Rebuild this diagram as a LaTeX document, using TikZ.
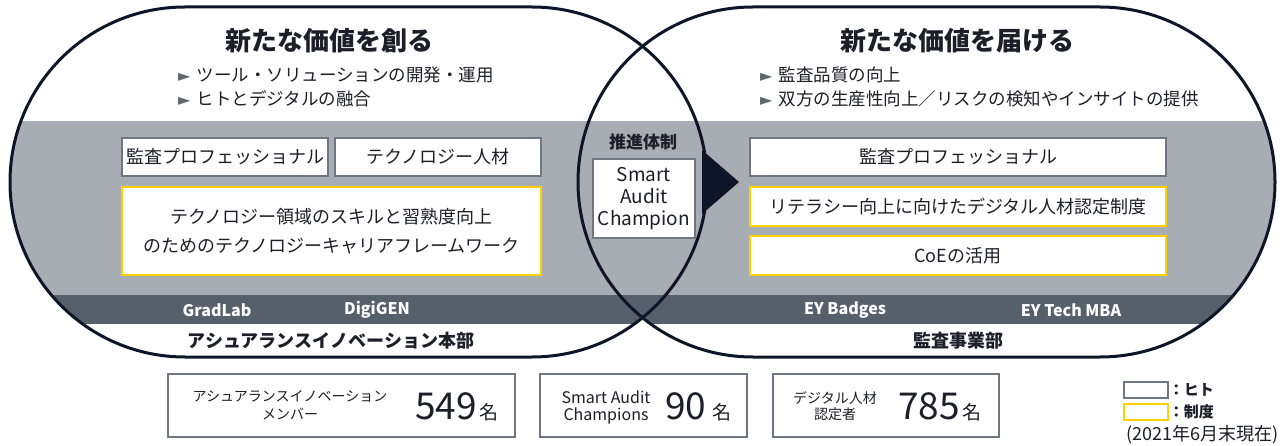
\documentclass[tikz,border=0pt]{standalone}
\usepackage{fontspec}
\setmainfont{Noto Sans CJK JP}
\newfontfamily\dejavu{DejaVu Sans}
\definecolor{outl}{HTML}{0C1628}
\definecolor{bandl}{HTML}{A7ADB3}
\definecolor{bandd}{HTML}{56606B}
\definecolor{boxg}{HTML}{6E7782}
\definecolor{eyy}{HTML}{FFD100}
\definecolor{txt}{HTML}{1E1E28}
\definecolor{bul}{HTML}{5E6670}
\newcommand\fsz[2]{\fontsize{#1}{#2}\selectfont}
\newcommand\stadium[1]{(#1-173.5,7) -- (#1+173.5,7) arc[start angle=-90,end angle=90,radius=175] -- (#1-173.5,357) arc[start angle=90,end angle=270,radius=175] -- cycle}
\newcommand\bul{{\dejavu\color{bul}\fsz{16}{16}►}\hspace{6pt}}
\tikzset{
  every node/.style={text=txt, inner sep=0pt},
  hitobox/.style={draw=boxg, fill=white, line width=1.5pt},
  seidobox/.style={draw=eyy, fill=white, line width=2pt},
  cntbox/.style={draw=boxg, fill=white, line width=1.2pt},
  bullettxt/.style={anchor=west, font=\fsz{17.5}{17.5}},
  boxtxt/.style={font=\fsz{18}{29}, align=center},
  bandtxt/.style={font=\bfseries\fsz{16}{16}, text=white},
  deptxt/.style={font=\bfseries\fsz{18}{18}},
  titletxt/.style={font=\bfseries\fsz{26}{26}},
  bignum/.style={anchor=base west, font=\fsz{37}{37}},
  meitxt/.style={anchor=base west, font=\fsz{19}{19}},
}
\begin{document}
\begin{tikzpicture}[x=1pt,y=-1pt]
\useasboundingbox (0,0) rectangle (1282,446);
\fill[white] (0,0) rectangle (1282,446);
% bands clipped to each shape
\begin{scope}
\clip \stadium{358.5};
\fill[bandl] (0,121) rectangle (1282,295);
\fill[bandd] (0,295) rectangle (1282,324);
\end{scope}
\begin{scope}
\clip \stadium{926.5};
\fill[bandl] (0,121) rectangle (1282,295);
\fill[bandd] (0,295) rectangle (1282,324);
\end{scope}
% arrow triangle
\fill[outl] (702,150) -- (739,182) -- (702,214) -- cycle;
% outlines
\draw[outl, line width=3pt] \stadium{358.5};
\draw[outl, line width=3pt] \stadium{926.5};
% titles
\node[titletxt] (t1) at (329,41) {新たな価値を創る};
\node[titletxt] (t2) at (957,41) {新たな価値を届ける};
\node[bullettxt] (b1) at (178,75) {\bul ツール・ソリューションの開発・運用};
\node[bullettxt] (b2) at (178,99) {\bul ヒトとデジタルの融合};
\node[bullettxt] (b3) at (760,75) {\bul 監査品質の向上};
\node[bullettxt] (b4) at (760,99) {\bul 双方の生産性向上／リスクの検知やインサイトの提供};
% left boxes
\node[hitobox, minimum width=206pt, minimum height=38pt, boxtxt] (l1) at (225,157) {監査プロフェッショナル};
\node[hitobox, minimum width=206pt, minimum height=38pt, boxtxt] (l2) at (438,157) {テクノロジー人材};
\node[seidobox, minimum width=419pt, minimum height=88pt, boxtxt] (l3) at (331.5,231) {テクノロジー領域のスキルと習熟度向上\\のためのテクノロジーキャリアフレームワーク};
% center
\node[font=\bfseries\fsz{17}{17}] (sk) at (643,142) {推進体制};
\node[hitobox, minimum width=102pt, minimum height=79pt, align=center, font=\fsz{19}{22}] (sac) at (644,198.5) {Smart\\Audit\\Champion};
% right boxes
\node[hitobox, minimum width=416pt, minimum height=38pt, boxtxt] (r1) at (958,157) {監査プロフェッショナル};
\node[seidobox, minimum width=416pt, minimum height=39pt, boxtxt] (r2) at (958,206.5) {リテラシー向上に向けたデジタル人材認定制度};
\node[seidobox, minimum width=416pt, minimum height=39pt, boxtxt] (r3) at (958,255.5) {CoEの活用};
% band labels
\node[bandtxt] (g1) at (217,310) {GradLab};
\node[bandtxt] (g2) at (377,310) {DigiGEN};
\node[bandtxt] (g3) at (845,310) {EY Badges};
\node[bandtxt] (g4) at (1071,310) {EY Tech MBA};
\node[deptxt] (d1) at (331,341) {アシュアランスイノベーション本部};
\node[deptxt] (d2) at (958,341) {監査事業部};
% count boxes
\node[cntbox, minimum width=347pt, minimum height=63pt] (c1) at (341.5,405.5) {};
\node[font=\fsz{14}{18}, align=center] (c1a) at (290,405) {アシュアランスイノベーション\\メンバー};
\node[bignum] (c1n) at (415,419) {549};
\node[meitxt] (c1m) at (479,419) {名};
\node[cntbox, minimum width=207pt, minimum height=63pt] (c2) at (643.5,405.5) {};
\node[font=\fsz{16}{17}, align=center] (c2a) at (606,407) {Smart Audit\\Champions};
\node[bignum] (c2n) at (665,419) {90};
\node[meitxt] (c2m) at (712,419) {名};
\node[cntbox, minimum width=226pt, minimum height=63pt] (c3) at (886,405.5) {};
\node[font=\fsz{14}{16}, align=center] (c3a) at (835,406) {デジタル人材\\認定者};
\node[bignum] (c3n) at (898,419) {785};
\node[meitxt] (c3m) at (962,419) {名};
% legend
\node[draw=boxg, line width=1.5pt, minimum width=44pt, minimum height=16pt] (lg1) at (1146,390) {};
\node[draw=eyy, line width=1.5pt, minimum width=44pt, minimum height=16pt] (lg2) at (1146,412) {};
\node[anchor=west, font=\bfseries\fsz{15}{15}] (lg1t) at (lg1.east) {：ヒト};
\node[anchor=west, font=\bfseries\fsz{15}{15}] (lg2t) at (lg2.east) {：制度};
\node[anchor=east, font=\fsz{18}{18}] (note) at (1279,435) {(2021年6月末現在)};
\end{tikzpicture}
\end{document}
